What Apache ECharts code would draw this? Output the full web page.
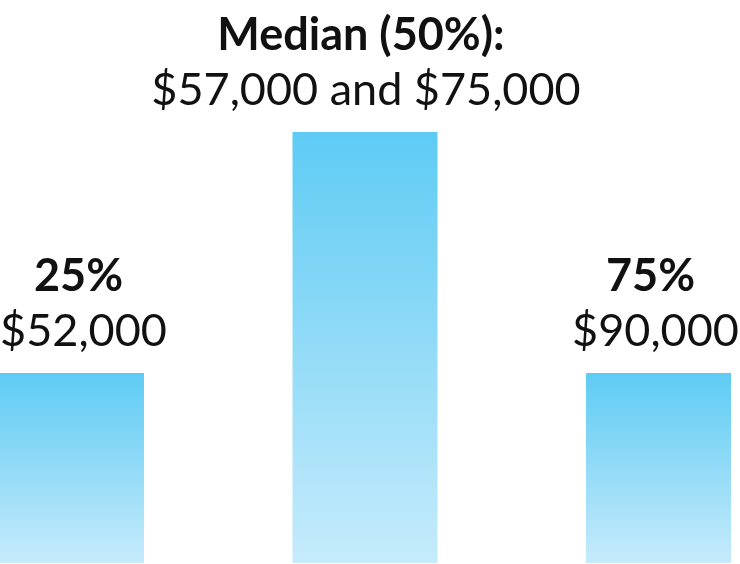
<!DOCTYPE html>
<html>
<head>
<meta charset="utf-8">
<script src="https://cdn.jsdelivr.net/npm/echarts@6/dist/echarts.min.js"></script>
<style>
  html, body { margin: 0; padding: 0; background: #fff; }
  #chart { width: 740px; height: 564px; }
</style>
</head>
<body>
<div id="chart"></div>
<script>
// data
const categories = ['25%', 'Median (50%):', '75%'];
const barValues = [44.1, 100, 44.1];
const valueLabels = ['$52,000', '$57,000 and $75,000', '$90,000'];
// the left label is nudged so it stays inside the picture
const labelShift = [12, 1, -3];

const chart = echarts.init(document.getElementById('chart'));

const option = {
    animation: false,
    grid: { left: 71.5, right: 81.5, top: 132, bottom: 1 },
    xAxis: {
        type: 'category',
        data: categories,
        boundaryGap: false,
        show: false
    },
    yAxis: { type: 'value', min: 0, max: 100, show: false },
    series: [{
        type: 'bar',
        data: barValues.map((v, i) => ({ value: v, label: { offset: [labelShift[i], 0] } })),
        barWidth: 145,
        clip: false,
        itemStyle: {
            color: new echarts.graphic.LinearGradient(0, 0, 0, 1, [
                { offset: 0, color: '#5ecbf4' },
                { offset: 1, color: '#c6ebfb' }
            ])
        },
        label: {
            show: true,
            position: 'top',
            distance: 14,
            formatter: p => '{t|' + p.name + '}\n{v|' + valueLabels[p.dataIndex] + '}',
            rich: {
                t: { fontFamily: 'Lato', fontWeight: 'bold', fontSize: 45, color: '#111', lineHeight: 55, align: 'center', padding: [0, 10, 0, 0] },
                v: { fontFamily: 'Lato', fontSize: 45, color: '#111', lineHeight: 55, align: 'center' }
            }
        }
    }]
};
chart.setOption(option);
</script>
</body>
</html>
